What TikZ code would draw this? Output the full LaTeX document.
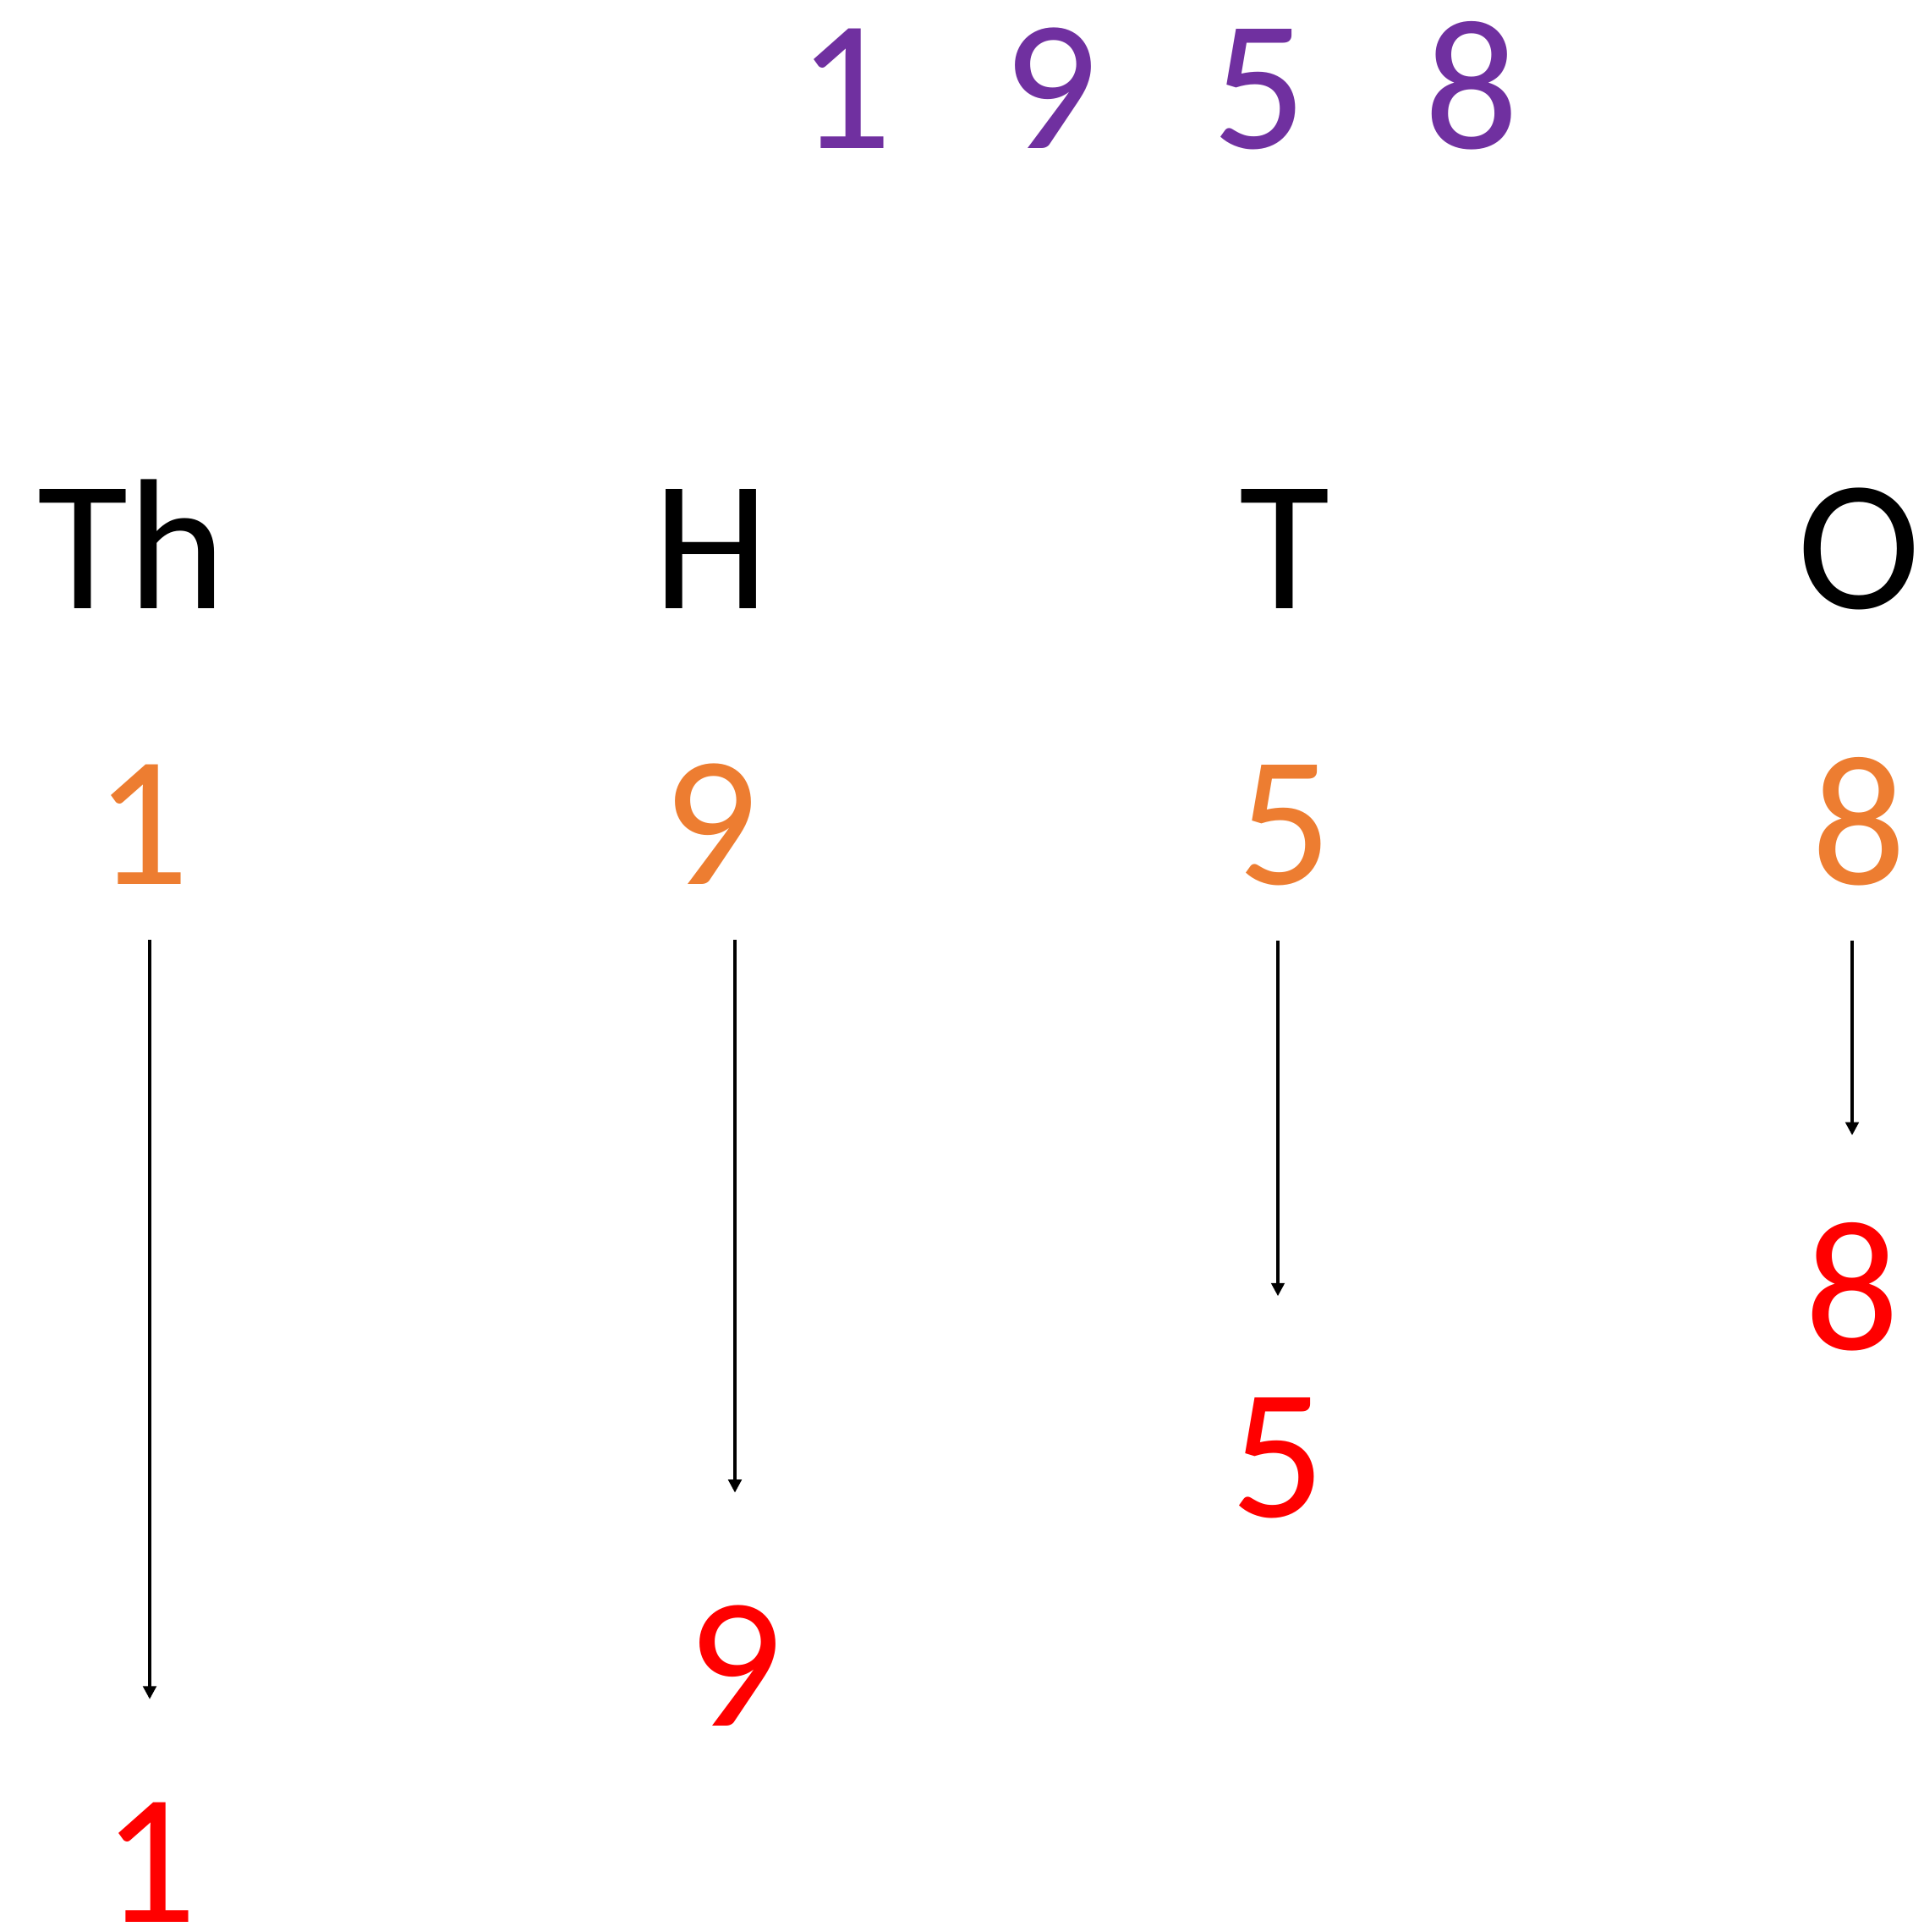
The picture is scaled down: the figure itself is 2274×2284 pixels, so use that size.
\documentclass[tikz,border=0pt]{standalone}
\usepackage{fontspec}
\setmainfont{Carlito}
\usepackage{tikz}
\usetikzlibrary{arrows.meta}
\definecolor{yearpurple}{HTML}{7030A0}
\definecolor{digitorange}{HTML}{ED7D31}
\definecolor{resultred}{HTML}{FF0000}

\begin{document}
\begin{tikzpicture}[
    x=0.01cm, y=-0.01cm,
    txt/.style={inner sep=0pt, anchor=base, font=\fontsize{62.5}{70}\selectfont},
    year/.style={txt, text=yearpurple},
    place/.style={txt, text=black},
    digit/.style={txt, text=digitorange},
    result/.style={txt, text=resultred},
    arrow/.style={-{Triangle[width=4.4pt,length=4.4pt]}, line width=1pt, shorten <=0.65cm}
]
\useasboundingbox (0,0) rectangle (2274,2284);

% Year on top
\node[year] (y1) at (999,175) {1};
\node[year] (y2) at (1242,175) {9};
\node[year] (y3) at (1489,175) {5};
\node[year] (y4) at (1740,175) {8};

% Place values
\node[place] (th) at (156,719) {Th};
\node[place] (h) at (841,719) {H};
\node[place] (t) at (1519,719) {T};
\node[place] (o) at (2198,719) {O};

% Digits under each place
\node[digit] (o1) at (168,1045) {1};
\node[digit] (o2) at (840,1045) {9};
\node[digit] (o3) at (1519,1045) {5};
\node[digit] (o4) at (2198,1045) {8};

% Digits moved down
\node[result] (r1) at (177,2272) {1};
\node[result] (r2) at (869,2040) {9};
\node[result] (r3) at (1511,1793) {5};
\node[result] (r4) at (2190,1595) {8};

% Arrows
\draw[arrow, shorten >=1.21cm] (o1.south -| r1) -- (r1.north);
\draw[arrow, shorten >=1.32cm] (o2.south -| r2) -- (r2.north);
\draw[arrow, shorten >=1.19cm] (o3.south -| r3) -- (r3.north);
\draw[arrow, shorten >=1.02cm] (o4.south -| r4) -- (r4.north);
\end{tikzpicture}
\end{document}
